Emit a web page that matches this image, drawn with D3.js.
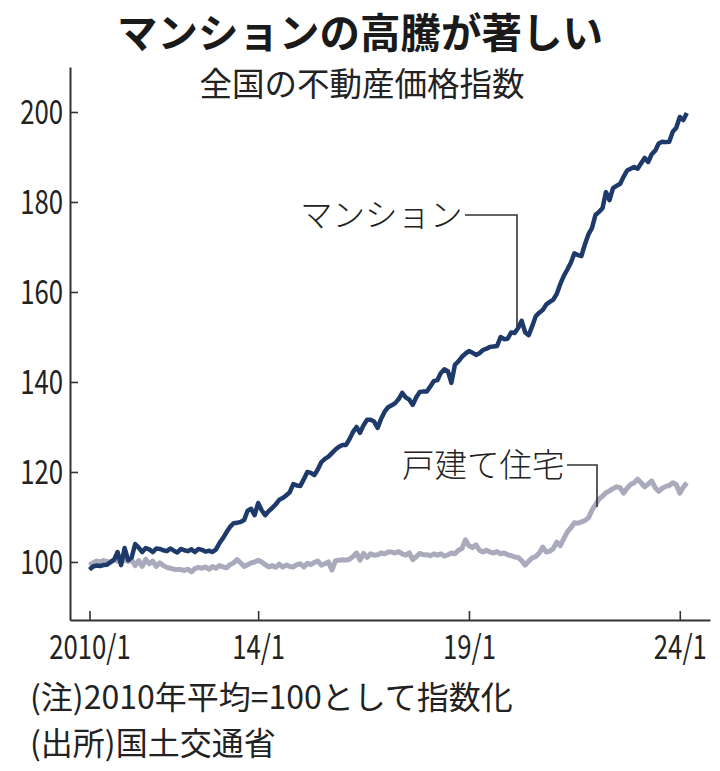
<!DOCTYPE html>
<html>
<head>
<meta charset="utf-8">
<script src="https://cdn.jsdelivr.net/npm/d3@7"></script>
<style>
  body { margin: 0; background: #fff; }
  svg text { font-family: "Noto Sans CJK JP", sans-serif; fill: #222; }
</style>
</head>
<body>
<svg id="chart" width="720" height="771"></svg>
<script>
///-------------------- données (indice mensuel, 2010/1 = mois 0)
var mansion = [
  98.3, 99.0, 99.2, 99.1, 99.3, 99.4, 100.0, 100.5, 102.2, 99.3, 103.1, 100.4,
  101.0, 104.0, 103.2, 102.2, 103.1, 102.8, 102.2, 103.0, 102.9, 102.6, 102.4, 103.0,
  102.5, 102.1, 102.9, 102.6, 102.4, 102.8, 102.2, 102.9, 102.7, 102.3, 102.5, 102.2,
  102.8, 104.2, 105.3, 106.6, 107.8, 108.6, 108.7, 108.9, 109.3, 111.4, 111.8, 110.4,
  113.1, 111.5, 110.4, 111.3, 112.0, 112.8, 113.8, 114.2, 114.8, 115.5, 117.3, 117.0,
  116.9, 118.4, 120.0, 119.8, 119.3, 120.6, 122.2, 122.9, 123.4, 124.2, 125.0, 125.6,
  126.0, 126.0, 127.3, 128.9, 130.0, 128.7, 130.4, 131.6, 131.6, 131.2, 129.8, 131.8,
  133.4, 134.4, 134.8, 135.3, 136.2, 137.6, 136.6, 136.1, 134.9, 136.6, 137.8, 137.9,
  137.9, 139.0, 140.2, 140.4, 142.0, 142.8, 142.4, 139.8, 143.8, 144.6, 145.6, 146.3,
  146.9, 146.5, 146.0, 146.4, 147.1, 147.4, 147.8, 147.9, 148.0, 150.0, 149.5, 149.6,
  151.0, 150.9, 152.0, 153.6, 151.0, 150.4, 152.4, 154.6, 155.4, 156.0, 157.2, 157.8,
  158.3, 159.6, 161.8, 163.6, 165.0, 166.5, 168.6, 168.2, 168.0, 170.6, 172.8, 174.2,
  177.1, 177.8, 178.6, 182.2, 180.4, 183.1, 183.6, 184.0, 185.6, 187.0, 187.4, 187.8,
  187.4, 188.6, 189.8, 188.9, 190.6, 191.4, 193.0, 193.4, 193.3, 193.4, 195.6, 196.5,
  198.9, 198.2, 199.8
];
var kodate = [
  99.3, 99.8, 100.2, 100.0, 100.3, 100.1, 99.9, 100.4, 100.2, 100.0, 100.5, 100.1,
  100.4, 99.2, 100.3, 99.0, 100.6, 99.6, 100.2, 99.0, 99.8, 99.2, 98.8, 98.6,
  98.4, 98.3, 98.3, 98.1, 98.4, 97.8, 98.5, 98.8, 98.6, 98.9, 98.4, 99.0,
  98.6, 99.2, 98.9, 98.7, 99.4, 99.8, 100.5, 99.8, 99.0, 99.4, 99.8, 100.0,
  100.4, 100.0, 99.4, 98.9, 99.2, 98.8, 99.5, 98.9, 99.3, 99.0, 98.9, 99.4,
  99.6, 98.9, 99.7, 99.4, 99.9, 100.2, 99.3, 99.6, 100.0, 98.2, 100.3, 100.4,
  100.5, 100.4, 100.6, 101.2, 102.0, 100.4, 101.9, 101.0, 101.8, 101.5, 101.6, 102.0,
  101.8, 102.2, 102.2, 102.0, 102.3, 101.8, 101.5, 102.0, 100.5, 101.2, 101.9, 101.6,
  101.6, 101.4, 101.8, 101.5, 101.8, 101.3, 101.6, 102.0, 101.8, 102.6, 103.0, 104.9,
  103.6, 103.2, 103.8, 102.6, 102.2, 102.6, 102.2, 102.0, 102.3, 101.8, 102.0, 101.6,
  101.4, 101.1, 101.0, 100.3, 99.3, 100.2, 100.9, 101.2, 102.0, 103.3, 102.2, 102.4,
  103.0, 104.4, 103.6, 105.2, 106.7, 107.6, 108.7, 108.6, 108.9, 109.2, 109.8, 111.5,
  112.7, 114.0, 114.6, 115.4, 115.8, 116.3, 116.7, 116.5, 115.3, 116.4, 117.2, 117.6,
  118.4, 117.6, 116.7, 117.3, 118.0, 116.5, 115.7, 116.4, 116.8, 117.0, 117.6, 117.2,
  115.3, 116.6, 117.6
];
var yTicks = [100, 120, 140, 160, 180, 200];
var xTickMonths = [0, 48, 108, 168];
var xTickLabels = ["2010/1", "14/1", "19/1", "24/1"];
var titre = "マンションの高騰が著しい";
var sousTitre = "全国の不動産価格指数";
var notes = ["(注)2010年平均=100として指数化", "(出所)国土交通省"];

///-------------------- géométrie
var axeX = 70, axeY = 620, finX = 710, hautY = 67;
var serre = 0.78; // chiffres étroits

var svg = d3.select("#chart");

var x = d3.scaleLinear().domain([-5.55, 176.6]).range([axeX, finX]);
var y = d3.scaleLinear().domain([87.1, 210]).range([axeY, hautY]);

// titre
svg.append("text")
  .attr("x", 360).attr("y", 48)
  .attr("text-anchor", "middle")
  .attr("font-size", 40.5).attr("font-weight", 700)
  .style("fill", "#1a1a1a")
  .text(titre);
svg.append("text")
  .attr("x", 362).attr("y", 96)
  .attr("text-anchor", "middle")
  .attr("font-size", 32.5)
  .text(sousTitre);

// axe Y
var gy = svg.append("g")
  .attr("transform", "translate(" + axeX + ",0)")
  .call(d3.axisLeft(y).tickValues(yTicks).tickSizeInner(-8).tickSizeOuter(0).tickPadding(7));
// axe X
var gx = svg.append("g")
  .attr("transform", "translate(0," + axeY + ")")
  .call(d3.axisBottom(x).tickValues(xTickMonths).tickSizeInner(-9).tickSizeOuter(0).tickPadding(0)
    .tickFormat(function(d, i){ return xTickLabels[i]; }));

svg.selectAll(".domain").attr("stroke", "#333").attr("stroke-width", 2);
svg.selectAll(".tick line").attr("stroke", "#333").attr("stroke-width", 1.6);
svg.selectAll(".tick text")
  .attr("font-family", null).attr("font-size", 33).style("fill", "#222");

gy.selectAll(".tick text").each(function(){
  var t = d3.select(this), tx = +t.attr("x");
  t.attr("x", 0).attr("dy", "0.36em")
   .attr("transform", "translate(" + tx + ",0) scale(" + serre + ",1)");
});
gx.selectAll(".tick text").each(function(){
  var t = d3.select(this);
  t.attr("y", 0).attr("dy", null)
   .attr("transform", "translate(0,39) scale(" + serre + ",1)");
});

// courbes
var ligne = d3.line()
  .x(function(d, i){ return x(i); })
  .y(function(d){ return y(d); });

svg.append("path")
  .datum(kodate)
  .attr("fill", "none")
  .attr("stroke", "#a9aabb")
  .attr("stroke-width", 5)
  .attr("stroke-linejoin", "round")
  .attr("d", ligne);

svg.append("path")
  .datum(mansion)
  .attr("fill", "none")
  .attr("stroke", "#1d3a6a")
  .attr("stroke-width", 4.5)
  .attr("stroke-linejoin", "round")
  .attr("d", ligne);

// étiquettes + traits de rappel
svg.append("text")
  .attr("x", 300).attr("y", 227)
  .attr("font-size", 32.5).attr("font-weight", 300)
  .text("マンション");
svg.append("polyline")
  .attr("points", "465,215 517,215 517,327")
  .attr("fill", "none").attr("stroke", "#333").attr("stroke-width", 1.6);

svg.append("text")
  .attr("x", 402).attr("y", 477)
  .attr("font-size", 32.5).attr("font-weight", 300)
  .text("戸建て住宅");
svg.append("polyline")
  .attr("points", "567,465 597,465 597,507")
  .attr("fill", "none").attr("stroke", "#333").attr("stroke-width", 1.6);

// notes
svg.selectAll(".note")
  .data(notes)
  .enter()
  .append("text")
  .attr("class", "note")
  .attr("x", 30)
  .attr("y", function(d, i){ return 709 + i * 46; })
  .attr("font-size", 32)
  .text(function(d){ return d; });
</script>
</body>
</html>
